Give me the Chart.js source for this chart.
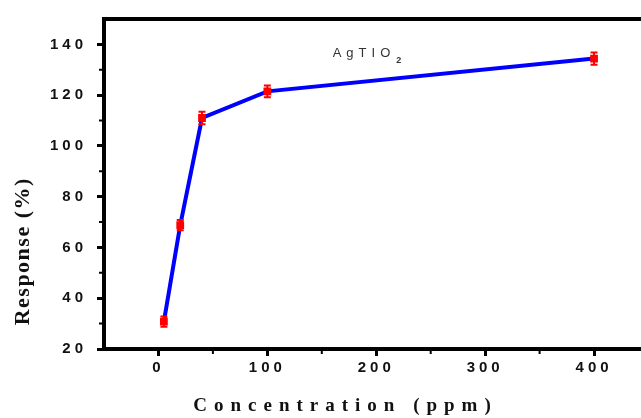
<!DOCTYPE html>
<html>
<head>
<meta charset="utf-8">
<script src="https://cdn.jsdelivr.net/npm/chart.js@4/dist/chart.umd.min.js"></script>
<style>
  html, body { margin: 0; padding: 0; background: #fff; overflow: hidden; }
  canvas { display: block; }
</style>
</head>
<body>
<canvas id="c" width="660" height="418"></canvas>
<script>
// ---- data ----
const concentration = [5, 20, 40, 100, 400];
const response = [30.8, 68.8, 111.0, 121.5, 134.4];
const responseError = [2.0, 2.0, 2.5, 2.3, 2.4];

const xTickValues = [0, 100, 200, 300, 400];
const yTickValues = [20, 40, 60, 80, 100, 120, 140];
const xMinorTicks = [50, 150, 250, 350];
const yMinorTicks = [30, 50, 70, 90, 110, 130];

const xTitle = 'Concentration (ppm)';
const yTitle = 'Response (%)';
const sampleLabel = 'AgTIO';
const sampleSub = '2';
const sampleLabelPos = [160, 135.2];

const tickFont = { family: '"Liberation Sans", Arial, sans-serif', size: 15, weight: 'bold' };

const decorPlugin = {
  id: 'decor',
  beforeDraw(chart) {
    chart.ctx.letterSpacing = '4px';
  },
  afterDatasetsDraw(chart) {
    const ctx = chart.ctx;
    const xs = chart.scales.x, ys = chart.scales.y;
    ctx.save();
    ctx.strokeStyle = '#ff0000';
    ctx.lineWidth = 2;
    concentration.forEach((c, i) => {
      const px = xs.getPixelForValue(c);
      const top = ys.getPixelForValue(response[i] + responseError[i]);
      const bot = ys.getPixelForValue(response[i] - responseError[i]);
      ctx.beginPath();
      ctx.moveTo(px, top); ctx.lineTo(px, bot);
      ctx.moveTo(px - 3.5, top); ctx.lineTo(px + 3.5, top);
      ctx.moveTo(px - 3.5, bot); ctx.lineTo(px + 3.5, bot);
      ctx.stroke();
    });
    ctx.restore();
  },
  afterDraw(chart) {
    const ctx = chart.ctx;
    const a = chart.chartArea;
    const xs = chart.scales.x, ys = chart.scales.y;
    ctx.save();
    // frame top and right
    ctx.strokeStyle = '#000';
    ctx.lineWidth = 4;
    ctx.beginPath();
    ctx.moveTo(a.left - 2, a.top);
    ctx.lineTo(a.right, a.top);
    ctx.lineTo(a.right, a.bottom);
    ctx.stroke();
    // minor ticks
    ctx.lineWidth = 2;
    ctx.beginPath();
    xMinorTicks.forEach(v => {
      const px = xs.getPixelForValue(v);
      ctx.moveTo(px, a.bottom); ctx.lineTo(px, a.bottom + 5);
    });
    yMinorTicks.forEach(v => {
      const py = ys.getPixelForValue(v);
      ctx.moveTo(a.left, py); ctx.lineTo(a.left - 5, py);
    });
    ctx.stroke();

    // axis titles
    ctx.fillStyle = '#111';
    ctx.textBaseline = 'middle';
    ctx.textAlign = 'center';
    ctx.font = 'bold 19px "Liberation Serif", "Times New Roman", serif';
    ctx.letterSpacing = '7px';
    ctx.fillText(xTitle, 342 + 3.5, 406);

    ctx.save();
    ctx.translate(23, 252);
    ctx.rotate(-Math.PI / 2);
    ctx.font = 'bold 22px "Liberation Serif", "Times New Roman", serif';
    ctx.letterSpacing = '1.5px';
    ctx.fillText(yTitle, 0.75, 0);
    ctx.restore();

    // sample label
    const lx = xs.getPixelForValue(sampleLabelPos[0]);
    const ly = ys.getPixelForValue(sampleLabelPos[1]);
    ctx.textAlign = 'left';
    ctx.textBaseline = 'alphabetic';
    ctx.fillStyle = '#333';
    ctx.font = '13px "Liberation Sans", Arial, sans-serif';
    ctx.letterSpacing = '5px';
    ctx.fillText(sampleLabel, lx, ly);
    const w = ctx.measureText(sampleLabel).width;
    ctx.font = 'bold 9px "Liberation Sans", Arial, sans-serif';
    ctx.letterSpacing = '0px';
    ctx.fillText(sampleSub, lx + w + 1, ly + 6);
    ctx.restore();
    ctx.letterSpacing = '0px';
  }
};

new Chart(document.getElementById('c'), {
  type: 'line',
  data: {
    datasets: [{
      data: concentration.map((c, i) => ({ x: c, y: response[i] })),
      borderColor: '#0000ff',
      borderWidth: 4,
      pointStyle: 'rect',
      pointRadius: 5.5,
      pointBackgroundColor: '#ff0000',
      pointBorderColor: '#ff0000',
      pointBorderWidth: 0,
      tension: 0,
      fill: false
    }]
  },
  options: {
    responsive: false,
    animation: false,
    events: [],
    layout: { padding: { top: 17, right: 11.5, bottom: 0, left: 0 } },
    plugins: { legend: { display: false }, tooltip: { enabled: false } },
    scales: {
      x: {
        type: 'linear',
        min: -50,
        max: 450,
        afterBuildTicks: s => { s.ticks = xTickValues.map(v => ({ value: v })); },
        afterFit: s => { s.height = 69; },
        grid: { drawOnChartArea: false, drawTicks: true, tickLength: 7, tickWidth: 3, tickColor: '#000' },
        border: { display: true, width: 4, color: '#000' },
        ticks: { font: tickFont, color: '#111', padding: 3, maxRotation: 0, autoSkip: false },
        title: { display: false }
      },
      y: {
        type: 'linear',
        min: 20,
        max: 150,
        afterBuildTicks: s => { s.ticks = yTickValues.map(v => ({ value: v })); },
        afterFit: s => { s.width = 104; },
        grid: { drawOnChartArea: false, drawTicks: true, tickLength: 7, tickWidth: 3, tickColor: '#000' },
        border: { display: true, width: 4, color: '#000' },
        ticks: { font: tickFont, color: '#111', padding: 10, autoSkip: false },
        title: { display: false }
      }
    }
  },
  plugins: [decorPlugin]
});
</script>
</body>
</html>
